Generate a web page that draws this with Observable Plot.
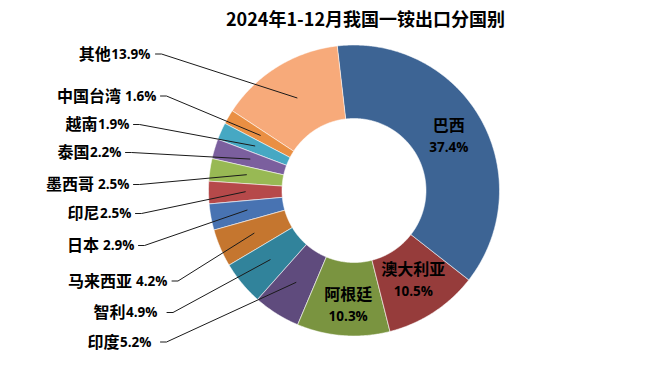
<!DOCTYPE html>
<html>
<head>
<meta charset="utf-8">
<script src="https://cdn.jsdelivr.net/npm/d3@7"></script>
<script src="https://cdn.jsdelivr.net/npm/@observablehq/plot@0.6"></script>
<style>
  html, body { margin: 0; padding: 0; background: #fff; }
  #chart svg { display: block; }
</style>
</head>
<body>
<div id="chart"></div>
<script>
// ---- data ----
const title = "2024年1-12月我国一铵出口分国别";
const countries = ["巴西", "澳大利亚", "阿根廷", "印度", "智利", "马来西亚", "日本", "印尼", "墨西哥", "泰国", "越南", "中国台湾", "其他"];
const shares = [37.4, 10.5, 10.3, 5.2, 4.9, 4.2, 2.9, 2.5, 2.5, 2.2, 1.9, 1.6, 13.9];
const labelSeparators = ["", "", "", "", "", " ", " ", "", " ", "", "", " ", ""];
const insideLabels = ["巴西", "澳大利亚", "阿根廷"];

// ---- style / layout ----
const colors = ["#3D6494", "#963C3B", "#7A9440", "#5F4B7D", "#31839B", "#C5762F",
                "#4873B2", "#B6494A", "#98B954", "#7B5F9E", "#46A8C3", "#EA8F43", "#F7AA7A"];
const W = 659, H = 378;
const cx = 353.5, cy = 190, rOuter = 145.5, rInner = 72;
const startDeg = -6.6;
const numFamily = "'Open Sans', sans-serif";
const numSize = 13.5;
const cjkFont = "'Noto Sans CJK SC', sans-serif";
// outside label layout: [text right end x, y, leader start x]
const outsideLayout = {
  "其他":     [150, 54, 155],
  "中国台湾": [156, 96, 160],
  "越南":     [129, 124.5, 133],
  "泰国":     [121, 152.5, 125],
  "墨西哥":   [129, 184.5, 133],
  "印尼":     [131, 213.5, 135],
  "日本":     [134, 245.5, 138],
  "马来西亚": [167, 281, 171.5],
  "智利":     [157, 312.5, 166.5],
  "印度":     [151, 342, 160]
};
const insideNudge = {"阿根廷": [2.5, 7]};

// ---- geometry from data ----
const arcs = d3.pie().sort(null).value(d => d)
  .startAngle(startDeg * Math.PI / 180)
  .endAngle(startDeg * Math.PI / 180 + 2 * Math.PI)(shares);

const pt = (r, a) => [cx + r * Math.sin(a), cy - r * Math.cos(a)];

const slicePts = [];
arcs.forEach((a, i) => {
  const n = Math.max(2, Math.ceil((a.endAngle - a.startAngle) / (Math.PI / 360)));
  for (let k = 0; k <= n; k++) {
    const t = a.startAngle + (a.endAngle - a.startAngle) * k / n;
    const [x, y] = pt(rOuter, t);
    slicePts.push({name: countries[i], x, y});
  }
  for (let k = n; k >= 0; k--) {
    const t = a.startAngle + (a.endAngle - a.startAngle) * k / n;
    const [x, y] = pt(rInner, t);
    slicePts.push({name: countries[i], x, y});
  }
});

const centroids = arcs.map((a, i) => {
  const [x, y] = pt((rOuter + rInner) / 2, (a.startAngle + a.endAngle) / 2);
  return {name: countries[i], share: shares[i], pct: shares[i].toFixed(1) + "%", x, y, i};
});

// measure number widths so the name can sit right before it
const ctx = document.createElement("canvas").getContext("2d");
ctx.font = `bold ${numSize}px 'Open Sans'`;
const outside = centroids.filter(c => outsideLayout[c.name]).map(c => {
  const [ex, ly, lx] = outsideLayout[c.name];
  const w = ctx.measureText(c.pct).width;
  const gap = labelSeparators[c.i] ? 4 : 0.5;
  return {...c, ex, ly, lx, nameX: ex - w - gap};
});
const leaders = [];
outside.forEach(c => {
  leaders.push({name: c.name, x: c.lx, y: c.ly - 0.5});
  leaders.push({name: c.name, x: c.lx + 6, y: c.ly - 0.5});
  leaders.push({name: c.name, x: c.x, y: c.y});
});
const inside = centroids.filter(c => insideLabels.includes(c.name)).map(c => {
  const [nx, ny] = insideNudge[c.name] || [0, 0];
  return {...c, lx: c.x + nx, ly: c.y + ny};
});

const chart = Plot.plot({
  width: W, height: H, margin: 0,
  x: {domain: [0, W], range: [0, W], axis: null},
  y: {domain: [0, H], range: [0, H], axis: null},
  color: {domain: countries, range: colors},
  style: {background: "#fff"},
  marks: [
    Plot.line(slicePts, {x: "x", y: "y", z: "name", fill: "name", stroke: "#ffffff",
      strokeWidth: 0.7, strokeOpacity: 0.8, curve: "linear-closed"}),
    Plot.line(leaders, {x: "x", y: "y", z: "name", stroke: "#1a1a1a", strokeWidth: 1}),
    Plot.text(outside, {x: "ex", y: "ly", text: "pct", textAnchor: "end",
      fontFamily: numFamily, fontSize: numSize, fontWeight: "bold", fill: "#000"}),
    Plot.text(outside, {x: "nameX", y: "ly", text: "name", textAnchor: "end",
      fontFamily: cjkFont, fontSize: 16, fontWeight: "bold", fill: "#000"}),
    Plot.text(inside, {x: "lx", y: "ly", text: "name", dy: -11.5,
      fontFamily: cjkFont, fontSize: 16, fontWeight: "bold", fill: "#000"}),
    Plot.text(inside, {x: "lx", y: "ly", text: "pct", dy: 10.5,
      fontFamily: numFamily, fontSize: numSize, fontWeight: "bold", fill: "#000"}),
    Plot.text([title], {x: () => 365, y: () => 20, text: d => d,
      fontFamily: cjkFont, fontSize: 18, fontWeight: "bold", fill: "#000"})
  ]
});
document.getElementById("chart").appendChild(chart);
</script>
</body>
</html>
